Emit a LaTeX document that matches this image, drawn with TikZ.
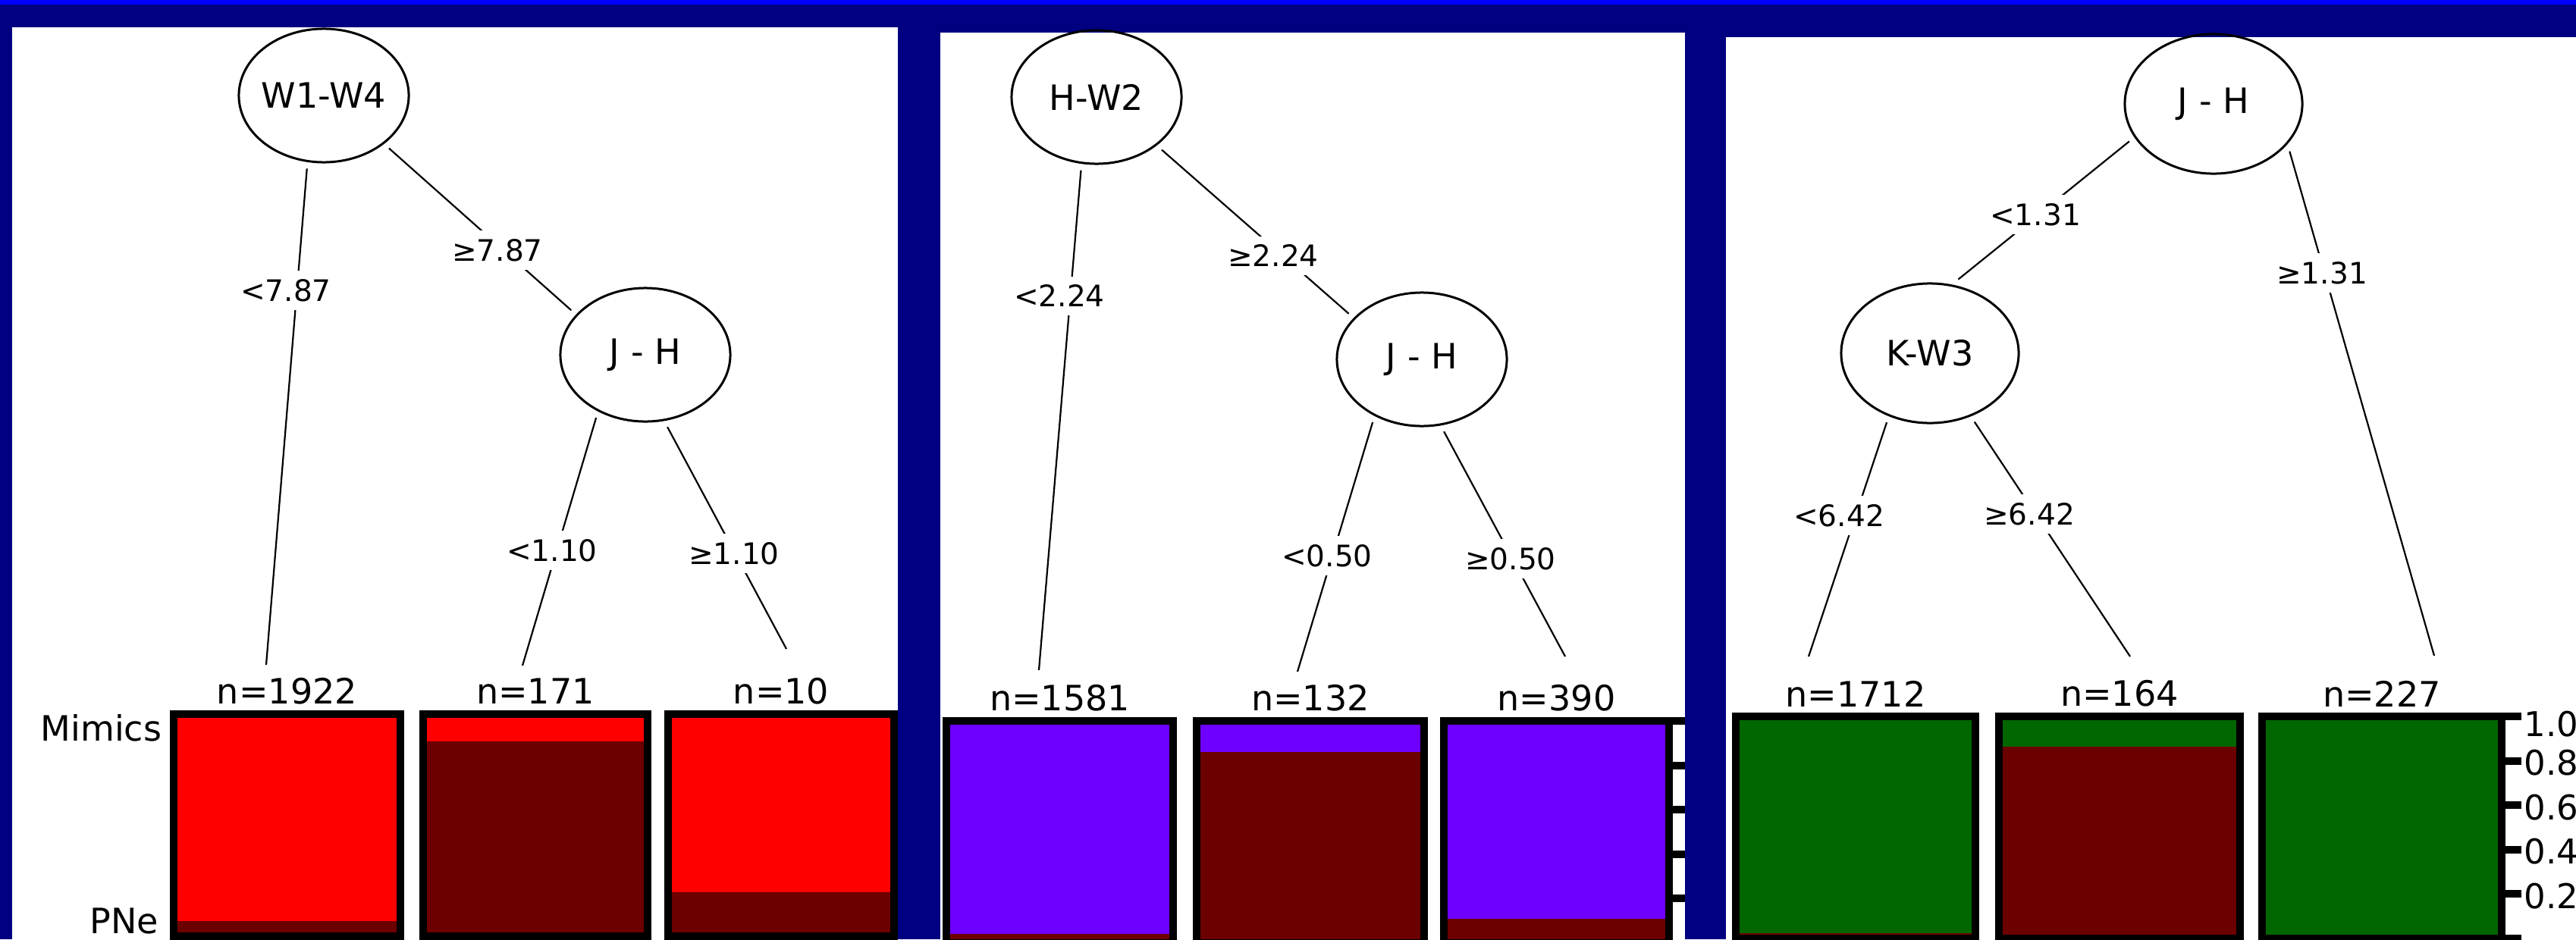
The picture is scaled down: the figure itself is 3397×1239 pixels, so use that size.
\documentclass[tikz,border=0pt]{standalone}
\usepackage{fontspec}
\setmainfont{DejaVu Sans}
\usetikzlibrary{shapes.geometric}
\definecolor{navy}{RGB}{0,0,128}
\definecolor{topblue}{RGB}{0,0,255}
\definecolor{mimred}{RGB}{255,0,0}
\definecolor{pnedark}{RGB}{108,0,0}
\definecolor{mimpurple}{RGB}{110,0,255}
\definecolor{mimgreen}{RGB}{0,102,0}
\newcommand\zw[1]{\makebox[0pt]{#1}}
\newcommand\leafbar[6]{%
  \fill[black] (#1,#3) rectangle (#2,#3+303);
  \fill[#4] (#1+10,#3+10) rectangle (#2-10,#3+293);
  \fill[pnedark] (#1+10,#5) rectangle (#2-10,#3+293);
  \node[countlabel] at (#1/2+#2/2,#3-25) {#6};
}
\begin{document}
\begin{tikzpicture}[x=0.01cm,y=-0.01cm,
  splitnode/.style={ellipse,draw,line width=0.03cm,minimum width=2.24cm,minimum height=1.76cm,inner sep=0pt,outer sep=0.1cm,
    font=\fontsize{13.1}{15}\selectfont},
  bigsplit/.style={splitnode,minimum width=2.34cm,minimum height=1.84cm},
  edge/.style={line width=0.022cm},
  cutlabel/.style={fill=white,inner xsep=0.03cm,inner ysep=0.11cm,font=\fontsize{11.1}{13}\selectfont},
  countlabel/.style={inner sep=0pt,font=\fontsize{13.1}{15}\selectfont},
  ticklabel/.style={anchor=west,inner sep=0pt,font=\fontsize{12.8}{14}\selectfont}]
\clip (0,0) rectangle (3397,1239);
% background
\fill[navy] (0,0) rectangle (3397,1239);
\fill[topblue] (0,0) rectangle (3397,6);
\fill[white] (16,36) rectangle (1184,1239);
\fill[white] (1240,43) rectangle (2222,1239);
\fill[white] (2276,49) rectangle (3397,1239);

% ---------- panel 1 ----------
\node[splitnode] (p1root) at (427,126) {\zw{W1-W4}};
\node[splitnode] (p1jh) at (851,468) {\zw{J - H}};
\coordinate (p1e1) at (351,877);
\coordinate (p1e2) at (689,878);
\coordinate (p1e3) at (1037,856);
\draw[edge] (p1root.257) -- (p1e1);
\draw[edge] (p1root.321) -- (p1jh.149);
\draw[edge] (p1jh.232) -- (p1e2);
\draw[edge] (p1jh.287) -- (p1e3);
\node[cutlabel] (p1c1) at (377,383) {<7.87};
\node[cutlabel] (p1c2) at (656,330) {≥7.87};
\node[cutlabel] (p1c3) at (728,726) {<1.10};
\node[cutlabel] (p1c4) at (968,730) {≥1.10};
\leafbar{224}{533}{937}{mimred}{1215}{n=1922}
\leafbar{553}{859}{937}{mimred}{978}{n=171}
\leafbar{876}{1184}{937}{mimred}{1177}{n=10}
\node[countlabel,anchor=east] (mim) at (214,960) {Mimics};
\node[countlabel,anchor=east] (pne) at (210,1215) {PNe};

% ---------- panel 2 ----------
\node[splitnode] (p2root) at (1446,128) {\zw{H-W2}};
\node[splitnode] (p2jh) at (1875,474) {\zw{J - H}};
\coordinate (p2e1) at (1370,884);
\coordinate (p2e2) at (1711,886);
\coordinate (p2e3) at (2064,866);
\draw[edge] (p2root.258) -- (p2e1);
\draw[edge] (p2root.321) -- (p2jh.148);
\draw[edge] (p2jh.232) -- (p2e2);
\draw[edge] (p2jh.287) -- (p2e3);
\node[cutlabel] (p2c1) at (1397,390) {<2.24};
\node[cutlabel] (p2c2) at (1679,337) {≥2.24};
\node[cutlabel] (p2c3) at (1750,733) {<0.50};
\node[cutlabel] (p2c4) at (1992,737) {≥0.50};
\leafbar{1243}{1552}{946}{mimpurple}{1232}{n=1581}
\leafbar{1573}{1883}{946}{mimpurple}{992}{n=132}
\leafbar{1899}{2206}{946}{mimpurple}{1212}{n=390}
\fill[black] (2196,946) rectangle (2222,956);
\foreach \k in {1,2,3,4} {
  \fill[black] (2206,951+\k*58.6-5) rectangle (2222,951+\k*58.6+5);
}

% ---------- panel 3 ----------
\node[bigsplit] (p3root) at (2919,137) {\zw{J - H}};
\node[bigsplit] (p3kw) at (2545,466) {\zw{K-W3}};
\coordinate (p3e1) at (2385,866);
\coordinate (p3e2) at (2809,866);
\coordinate (p3e3) at (3210,865);
\draw[edge] (p3root.204) -- (p3kw.69);
\draw[edge] (p3root.328) -- (p3e3);
\draw[edge] (p3kw.238) -- (p3e1);
\draw[edge] (p3kw.303) -- (p3e2);
\node[cutlabel] (p3c1) at (2684,283) {<1.31};
\node[cutlabel] (p3c2) at (3062,360) {≥1.31};
\node[cutlabel] (p3c3) at (2425,680) {<6.42};
\node[cutlabel] (p3c4) at (2676,678) {≥6.42};
\leafbar{2284}{2610}{940}{mimgreen}{1231}{n=1712}
\leafbar{2631}{2959}{940}{mimgreen}{985}{n=164}
\leafbar{2978}{3304}{940}{mimgreen}{1233}{n=227}
% axis
\fill[black] (3294,940) rectangle (3325,950);
\foreach \k in {1,2,3,4,5} {
  \fill[black] (3304,945+\k*58.6-5) rectangle (3325,945+\k*58.6+5);
}
\node[ticklabel] (t10) at (3328,955) {1.0};
\node[ticklabel] (t08) at (3328,1006) {0.8};
\node[ticklabel] (t06) at (3328,1065) {0.6};
\node[ticklabel] (t04) at (3328,1123) {0.4};
\node[ticklabel] (t02) at (3328,1182) {0.2};
\end{tikzpicture}
\end{document}
